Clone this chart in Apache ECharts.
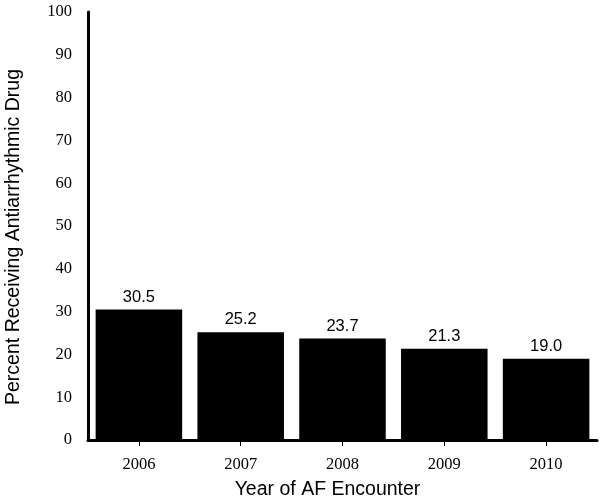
<!DOCTYPE html>
<html>
<head>
<meta charset="utf-8">
<script src="https://cdn.jsdelivr.net/npm/echarts@6/dist/echarts.min.js"></script>
<style>html,body{margin:0;padding:0;background:#fff;}#c{width:604px;height:501px;}</style>
</head>
<body>
<div id="c"></div>
<script>
const categories = ['2006', '2007', '2008', '2009', '2010'];
const values = [30.5, 25.2, 23.7, 21.3, 19.0];
const yTicks = [0, 10, 20, 30, 40, 50, 60, 70, 80, 90, 100];

const chart = echarts.init(document.getElementById('c'), null, {renderer: 'canvas'});
chart.setOption({
  animation: false,
  backgroundColor: '#fff',
  grid: {left: 88, right: 7, top: 12, bottom: 61, containLabel: false, outerBoundsMode: 'none'},
  xAxis: {
    type: 'category',
    data: categories,
    name: 'Year of AF Encounter',
    nameLocation: 'middle',
    nameGap: 40,
    nameTextStyle: {fontFamily: 'Liberation Sans', fontSize: 19.5, color: '#000', padding: [0, 30, 0, 0]},
    axisLine: {lineStyle: {color: '#000', width: 3}},
    axisTick: {show: true, alignWithLabel: true, length: 6, lineStyle: {color: '#000', width: 1}},
    axisLabel: {fontFamily: 'Liberation Serif', fontSize: 16.5, color: '#000', margin: 16}
  },
  yAxis: {
    type: 'value',
    min: yTicks[0],
    max: yTicks[yTicks.length - 1],
    interval: yTicks[1] - yTicks[0],
    name: 'Percent Receiving Antiarrhythmic Drug',
    nameLocation: 'middle',
    nameGap: 64,
    nameTextStyle: {fontFamily: 'Liberation Sans', fontSize: 19.5, color: '#000', padding: [0, 22, 0, 0]},
    axisLine: {show: true, lineStyle: {color: '#000', width: 3}},
    axisTick: {show: false},
    splitLine: {show: false},
    axisLabel: {fontFamily: 'Liberation Serif', fontSize: 16.5, color: '#000', margin: 16}
  },
  series: [{
    type: 'bar',
    data: values,
    barCategoryGap: '15%',
    itemStyle: {color: '#000'},
    label: {
      show: true,
      position: 'top',
      distance: 4,
      fontFamily: 'Liberation Sans',
      fontSize: 16.5,
      color: '#000',
      formatter: p => p.value.toFixed(1)
    }
  }]
});
</script>
</body>
</html>
